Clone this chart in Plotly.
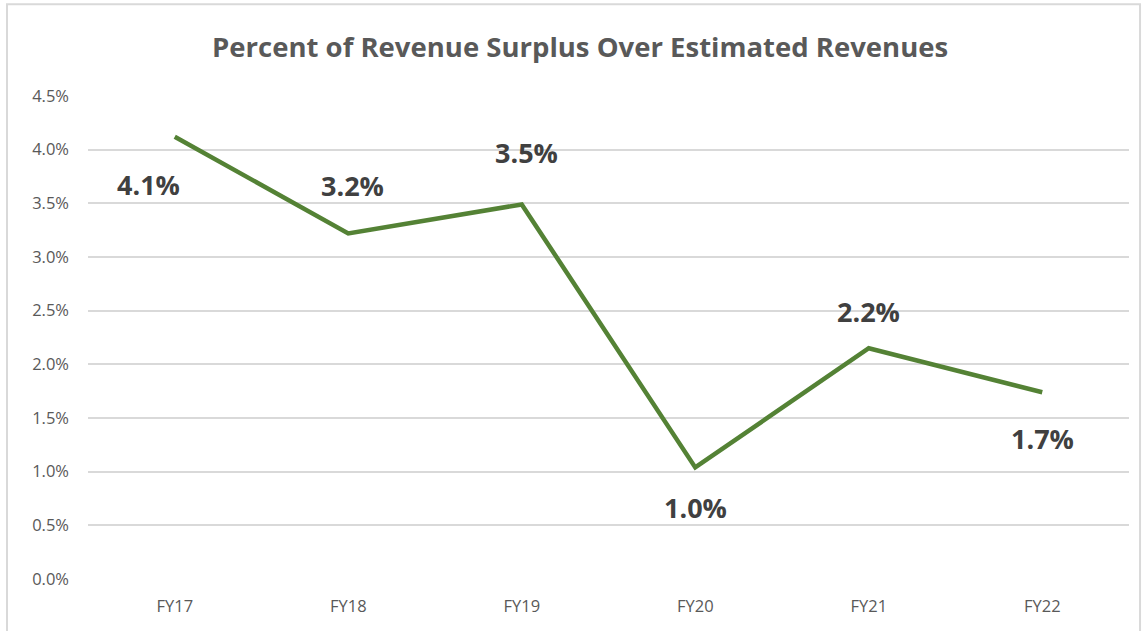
import plotly.graph_objects as go

categories = ["FY17", "FY18", "FY19", "FY20", "FY21", "FY22"]
values = [4.12, 3.22, 3.49, 1.04, 2.15, 1.74]
labels = ["4.1%", "3.2%", "3.5%", "1.0%", "2.2%", "1.7%"]
y_ticks = [0, 0.5, 1.0, 1.5, 2.0, 2.5, 3.0, 3.5, 4.0, 4.5]
y_tick_text = ["0.0%", "0.5%", "1.0%", "1.5%", "2.0%", "2.5%", "3.0%", "3.5%", "4.0%", "4.5%"]

# label offsets (pixels) relative to each point
label_shift = [(-26, -48), (4, 48), (5, 52), (0, -40), (0, 37), (0, -46)]

fig = go.Figure()
fig.add_trace(go.Scatter(
    x=categories, y=values, mode="lines",
    line=dict(color="#548235", width=4.5),
    hoverinfo="skip", showlegend=False,
))

for c, v, t, (dx, dy) in zip(categories, values, labels, label_shift):
    fig.add_annotation(x=c, y=v, text=t, showarrow=False, xshift=dx, yshift=dy,
                       font=dict(family="Open Sans", size=27, color="#404040", weight="bold"))

fig.add_shape(type="rect", xref="paper", yref="paper", x0=-0.0778, x1=1.0106, y0=-0.3, y1=1.19,
              line=dict(color="#d9d9d9", width=2), fillcolor="rgba(0,0,0,0)", layer="below")

fig.update_layout(
    width=1142, height=631,
    margin=dict(l=88, r=13, t=96, b=52),
    paper_bgcolor="white", plot_bgcolor="white",
    title=dict(text="<b>Percent of Revenue Surplus Over Estimated Revenues</b>",
               x=0.508, xanchor="center", y=0.925, yanchor="middle",
               font=dict(family="Open Sans", size=27.5, color="#595959")),
    xaxis=dict(range=[-0.5, 5.5], showgrid=False, showline=False, zeroline=False,
               tickfont=dict(family="Open Sans", size=16.5, color="#595959"),
               ticks="", ticklabelstandoff=15),
    yaxis=dict(range=[0, 4.5], tickvals=y_ticks, ticktext=y_tick_text,
               showgrid=True, gridcolor="#d9d9d9", gridwidth=1.5,
               zeroline=False, showline=False, ticks="",
               tickfont=dict(family="Open Sans", size=16.5, color="#595959"),
               ticklabelstandoff=18),
)

fig.write_html("out.html", config={"displayModeBar": False},
               post_script="document.body.style.margin='0';document.body.style.overflow='hidden';")
